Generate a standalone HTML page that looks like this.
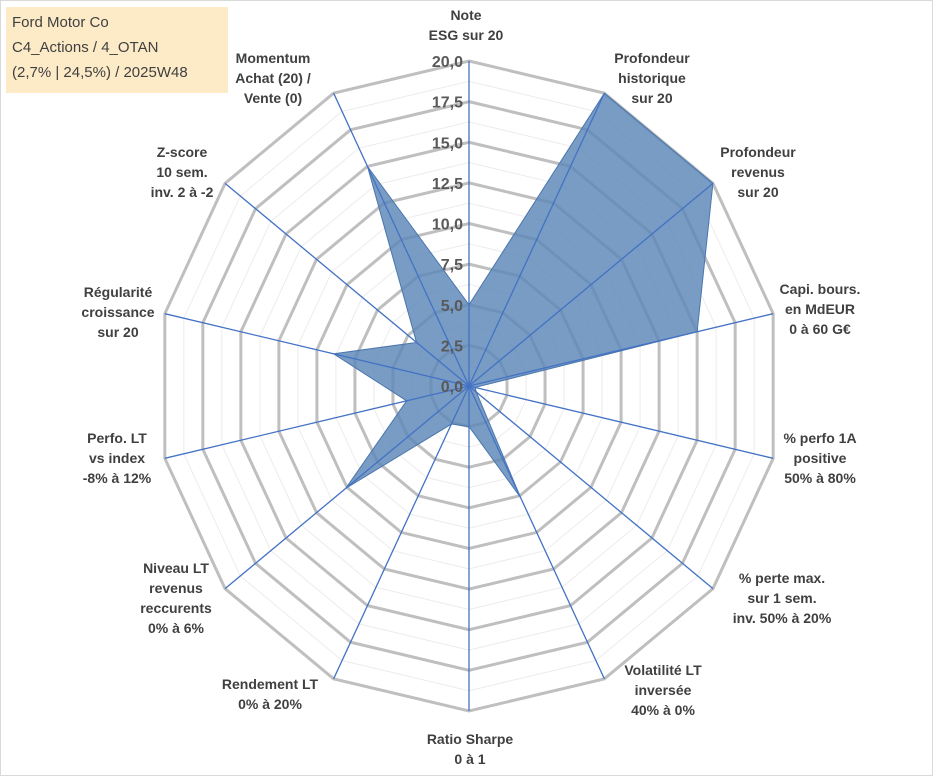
<!DOCTYPE html>
<html><head><meta charset="utf-8"><style>
body{margin:0;background:#fff;}
#wrap{position:relative;width:933px;height:776px;overflow:hidden;font-family:"Liberation Sans",sans-serif;}
svg text{font-family:"Liberation Sans",sans-serif;}
</style></head><body>
<div id="wrap">
<svg id="chart" width="933" height="776">
<rect x="0.5" y="0.5" width="932" height="775" fill="#fff" stroke="#d9d9d9"/>
<g id="grid"></g><g id="series"></g><g id="ticks"></g><g id="labels"></g>
<rect x="6" y="7" width="222" height="86" fill="#fdebc8"/>
<text x="12" y="27" font-size="15" fill="#404040">Ford Motor Co</text>
<text x="12" y="52" font-size="15" fill="#404040">C4_Actions / 4_OTAN</text>
<text x="12" y="77" font-size="15" fill="#404040">(2,7% | 24,5%) / 2025W48</text>
</svg>
</div>
<script>
const categories=[["Note","ESG sur 20"],["Profondeur","historique","sur 20"],["Profondeur","revenus","sur 20"],["Capi. bours.","en MdEUR","0 à 60 G€"],["% perfo 1A","positive","50% à 80%"],["% perte max.","sur 1 sem.","inv. 50% à 20%"],["Volatilité LT","inversée","40% à 0%"],["Ratio Sharpe","0 à 1"],["Rendement LT","0% à 20%"],["Niveau LT","revenus","reccurents","0% à 6%"],["Perfo. LT","vs index","-8% à 12%"],["Régularité","croissance","sur 20"],["Z-score","10 sem.","inv. 2 à -2"],["Momentum","Achat (20) /","Vente (0)"]];
const values=[5,20,20,15,0.4,0.6,7.6,2.5,2.6,10.1,4.1,8.9,4.3,15];
const tickLabels=["0,0","2,5","5,0","7,5","10,0","12,5","15,0","17,5","20,0"];
const maxV=20;
const labelPos=[[466,20],[652,63],[758,157],[820,294],[820,443],[782,583],[663,675],[470,744],[270,689],[176,573],[117,443],[118,297],[182,157],[273,63]];
const NS="http://www.w3.org/2000/svg";
const cx=469,cy=386,rx=312,ry=325,n=categories.length;
function ang(i){return i*2*Math.PI/n;}
function pt(i,v){const a=ang(i),r=v/maxV;return [cx+rx*r*Math.sin(a),cy-ry*r*Math.cos(a)];}
function mk(tag,attrs,parent){const e=document.createElementNS(NS,tag);for(const k in attrs)e.setAttribute(k,attrs[k]);parent.appendChild(e);return e;}
const grid=document.getElementById('grid');
for(let s=1;s<=16;s++){const v=s*1.25;const pts=[];for(let i=0;i<n;i++)pts.push(pt(i,v).join(','));
const major=s%2===0;
const p=mk('polygon',{points:pts.join(' '),fill:'none',stroke:major?'#bfbfbf':'#ececec','stroke-width':major?3:1},grid);

}
const ser=document.getElementById('series');
const poly=mk('polygon',{points:values.map((v,i)=>pt(i,v).join(',')).join(' '),fill:'#5b86b8','fill-opacity':'0.82',stroke:'#4a76ad','stroke-width':1},ser);


for(let i=0;i<n;i++){const e=pt(i,maxV);const l=mk('line',{x1:cx,y1:cy,x2:e[0],y2:e[1],stroke:'#4472c4','stroke-width':1.3},ser);

}
const tk=document.getElementById('ticks');
tickLabels.forEach((t,k)=>{const y=cy-ry*(k*2.5/maxV);const e=mk('text',{x:cx-6,y:y+6,'text-anchor':'end','font-size':16,'font-weight':'bold',fill:'#595959'},tk);e.textContent=t;

});
const lb=document.getElementById('labels');
categories.forEach((c,i)=>{const [x,y]=labelPos[i];c.forEach((line,j)=>{const e=mk('text',{x:x,y:y+j*20,'text-anchor':'middle','font-size':14,'font-weight':'bold',fill:'#404040'},lb);e.textContent=line;

});});
</script>
</body></html>
